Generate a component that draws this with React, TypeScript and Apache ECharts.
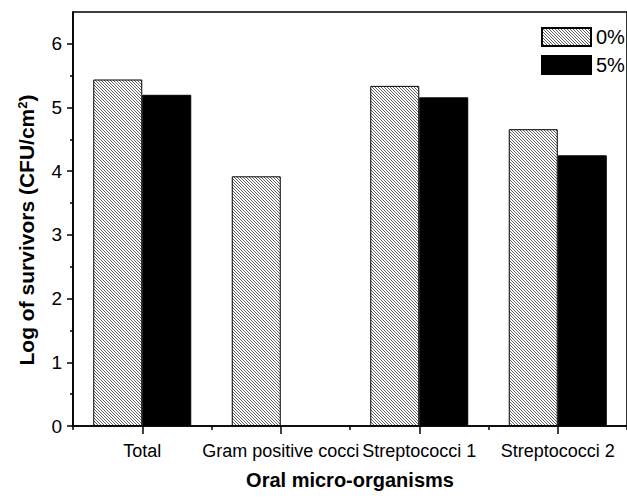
import React, { useEffect, useRef } from "react";
import * as echarts from "echarts";

const categories = ["Total", "Gram positive cocci", "Streptococci 1", "Streptococci 2"];
const seriesNames = ["0%", "5%"];
const values0 = [5.44, 3.92, 5.34, 4.66];
const values5: (number | null)[] = [5.2, null, 5.16, 4.25];
const yMajorTicks = [0, 1, 2, 3, 4, 5, 6];
const yMinorTicks = [0.5, 1.5, 2.5, 3.5, 4.5, 5.5];
const yMax = 6.5;

const FONT = "'Liberation Sans', Arial, sans-serif";

function makeHatch() {
  const c = document.createElement("canvas");
  c.width = 6;
  c.height = 6;
  const g = c.getContext("2d")!;
  g.fillStyle = "#ffffff";
  g.fillRect(0, 0, 6, 6);
  g.strokeStyle = "#3a3a3a";
  g.lineWidth = 0.8;
  for (const off of [-6, -3, 0, 3, 6]) {
    g.beginPath();
    g.moveTo(-1 + off, -1);
    g.lineTo(7 + off, 7);
    g.stroke();
  }
  return c;
}

export default function App() {
  const ref = useRef<HTMLDivElement>(null);
  useEffect(() => {
    if (!ref.current) return;
    const chart = echarts.init(ref.current, undefined, { renderer: "svg" });
    const hatch = { image: makeHatch(), repeat: "repeat", imageWidth: 6, imageHeight: 6 };
    chart.setOption({
      animation: false,
      textStyle: { fontFamily: FONT, color: "#000" },
      grid: {
        left: 73,
        top: 12,
        right: -7,
        bottom: 72,
        show: true,
        borderColor: "#000",
        borderWidth: 1.6,
        backgroundColor: "transparent",
      },
      legend: {
        data: seriesNames,
        orient: "vertical",
        left: 541,
        top: 27,
        padding: 0,
        itemWidth: 49,
        itemHeight: 18,
        itemGap: 8,
        icon: "rect",
        textStyle: { fontSize: 20, color: "#000", fontFamily: FONT },
      },
      xAxis: [
        {
          type: "category",
          data: categories,
          position: "bottom",
          name: "Oral micro-organisms",
          nameLocation: "middle",
          nameGap: 44,
          nameTextStyle: { fontSize: 20, fontWeight: "bold", color: "#000", fontFamily: FONT },
          axisLine: { show: true, lineStyle: { color: "#000", width: 1.6 } },
          axisTick: { show: true, alignWithLabel: true, length: 8, lineStyle: { color: "#000", width: 1.5 } },
          axisLabel: { interval: 0, fontSize: 18, margin: 16, color: "#000", fontFamily: FONT, hideOverlap: false },
          splitLine: { show: false },
        },
        {
          type: "category",
          data: categories,
          position: "bottom",
          axisLine: { show: false },
          axisTick: { show: true, length: 4, interval: 0, lineStyle: { color: "#000", width: 1.5 } },
          axisLabel: { show: false },
          splitLine: { show: false },
        },
      ],
      yAxis: [
        {
          type: "value",
          position: "left",
          min: 0,
          max: yMax,
          interval: 1,
          name: "Log of survivors (CFU/cm{sup|2})",
          nameLocation: "middle",
          nameGap: 36,
          nameTextStyle: {
            fontSize: 21,
            fontWeight: "bold",
            color: "#000",
            fontFamily: FONT,
            padding: [0, 22, 0, 0],
            rich: {
              sup: { fontSize: 13, fontWeight: "bold", color: "#000", fontFamily: FONT, verticalAlign: "top", lineHeight: 21 },
            },
          },
          axisLine: { show: true, lineStyle: { color: "#000", width: 1.6 } },
          axisTick: { show: true, length: 6, customValues: yMajorTicks, lineStyle: { color: "#000", width: 1.5 } },
          axisLabel: { fontSize: 19, margin: 11, color: "#000", fontFamily: FONT, customValues: yMajorTicks },
          splitLine: { show: false },
        },
        {
          type: "value",
          position: "left",
          min: 0,
          max: yMax,
          interval: 0.5,
          axisLine: { show: false },
          axisTick: { show: true, length: 3, customValues: yMinorTicks, lineStyle: { color: "#000", width: 1.5 } },
          axisLabel: { show: false },
          splitLine: { show: false },
        },
      ],
      series: [
        {
          name: seriesNames[0],
          type: "bar",
          data: values0,
          barWidth: 49,
          barGap: "0%",
          itemStyle: { color: hatch, borderColor: "#000", borderWidth: 1 },
        },
        {
          name: seriesNames[1],
          type: "bar",
          data: values5,
          barWidth: 49,
          barGap: "0%",
          itemStyle: { color: "#000", borderColor: "#000", borderWidth: 1 },
        },
      ],
    });
    return () => chart.dispose();
  }, []);
  return <div ref={ref} style={{ position: "fixed", left: 0, top: 0, width: 627, height: 498, background: "#fff" }} />;
}
